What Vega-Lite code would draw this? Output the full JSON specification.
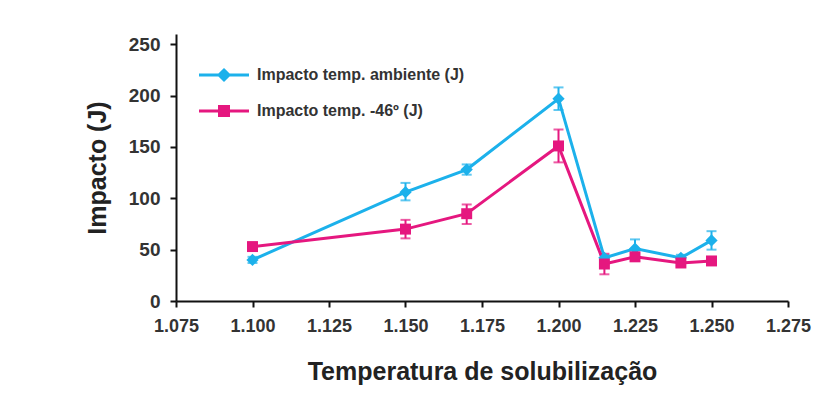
{
  "$schema": "https://vega.github.io/schema/vega-lite/v6.json",
  "width": 612,
  "height": 267,
  "autosize": {"type": "none"},
  "padding": {"left": 176, "top": 34, "right": 26, "bottom": 104},
  "background": "white",
  "config": {
    "view": {"stroke": null},
    "font": "Liberation Sans",
    "axis": {
      "grid": false,
      "domainColor": "#111",
      "domainWidth": 2,
      "tickColor": "#111",
      "tickWidth": 2,
      "tickSize": 6,
      "labelFont": "Liberation Sans",
      "labelFontSize": 18,
      "labelFontWeight": "bold",
      "labelColor": "#333",
      "titleFont": "Liberation Sans",
      "titleFontSize": 25,
      "titleFontWeight": "bold",
      "titleColor": "#222"
    }
  },
  "data": {
    "values": [
      {"serie": "Impacto temp. ambiente (J)", "temp": 1.100, "value": 40, "lo": 37, "hi": 43},
      {"serie": "Impacto temp. ambiente (J)", "temp": 1.150, "value": 106, "lo": 98, "hi": 115},
      {"serie": "Impacto temp. ambiente (J)", "temp": 1.170, "value": 128, "lo": 123, "hi": 133},
      {"serie": "Impacto temp. ambiente (J)", "temp": 1.200, "value": 197, "lo": 186, "hi": 208},
      {"serie": "Impacto temp. ambiente (J)", "temp": 1.215, "value": 42, "lo": 39, "hi": 45},
      {"serie": "Impacto temp. ambiente (J)", "temp": 1.225, "value": 51, "lo": 43, "hi": 60},
      {"serie": "Impacto temp. ambiente (J)", "temp": 1.240, "value": 42, "lo": 39, "hi": 45},
      {"serie": "Impacto temp. ambiente (J)", "temp": 1.250, "value": 59, "lo": 50, "hi": 68},
      {"serie": "Impacto temp. -46º (J)", "temp": 1.100, "value": 53, "lo": 50, "hi": 56},
      {"serie": "Impacto temp. -46º (J)", "temp": 1.150, "value": 70, "lo": 61, "hi": 79},
      {"serie": "Impacto temp. -46º (J)", "temp": 1.170, "value": 85, "lo": 75, "hi": 94},
      {"serie": "Impacto temp. -46º (J)", "temp": 1.200, "value": 151, "lo": 135, "hi": 167},
      {"serie": "Impacto temp. -46º (J)", "temp": 1.215, "value": 36, "lo": 26, "hi": 46},
      {"serie": "Impacto temp. -46º (J)", "temp": 1.225, "value": 43, "lo": 39, "hi": 47},
      {"serie": "Impacto temp. -46º (J)", "temp": 1.240, "value": 37, "lo": 34, "hi": 40},
      {"serie": "Impacto temp. -46º (J)", "temp": 1.250, "value": 39, "lo": 36, "hi": 42}
    ]
  },
  "encoding": {
    "x": {
      "field": "temp",
      "type": "quantitative",
      "title": "Temperatura de solubilização",
      "scale": {"domain": [1.075, 1.275], "nice": false, "zero": false},
      "axis": {"values": [1.075, 1.1, 1.125, 1.15, 1.175, 1.2, 1.225, 1.25, 1.275], "format": ".3f", "labelPadding": 10, "titlePadding": 24, "labelFlush": false}
    },
    "color": {
      "field": "serie",
      "type": "nominal",
      "scale": {"domain": ["Impacto temp. ambiente (J)", "Impacto temp. -46º (J)"], "range": ["#1cb1eb", "#e5177f"]},
      "legend": {
        "title": null,
        "orient": "none",
        "legendX": 40,
        "legendY": 33,
        "padding": 0,
        "symbolSize": 100,
        "labelOffset": 25,
        "labelLimit": 500,
        "labelFont": "Liberation Sans",
        "labelFontSize": 16,
        "labelFontWeight": "bold",
        "labelColor": "#333",
        "rowPadding": 14,
        "encode": {
          "symbols": {
            "update": {
              "shape": {"signal": "datum.value === 'Impacto temp. ambiente (J)' ? 'M-5,0H5M0,-1L1,0L0,1L-1,0Z' : 'M-5,0H5M-0.9,-0.9H0.9V0.9H-0.9Z'"},
              "fill": {"scale": "color", "field": "value"},
              "stroke": {"scale": "color", "field": "value"},
              "strokeWidth": {"value": 3},
              "opacity": {"value": 1}
            }
          }
        }
      }
    }
  },
  "layer": [
    {
      "mark": {"type": "errorbar", "ticks": {"size": 10}, "thickness": 2},
      "encoding": {
        "y": {"field": "lo", "type": "quantitative", "title": "Impacto (J)", "scale": {"domain": [0, 250]}, "axis": {"values": [0, 50, 100, 150, 200, 250], "labelPadding": 10, "labelFontSize": 19, "titlePadding": 18}},
        "y2": {"field": "hi"}
      }
    },
    {
      "mark": {"type": "line", "strokeWidth": 3},
      "encoding": {
        "y": {"field": "value", "type": "quantitative"}
      }
    },
    {
      "transform": [{"filter": "datum.serie === 'Impacto temp. ambiente (J)'"}],
      "mark": {"type": "point", "filled": true, "opacity": 1, "shape": "diamond", "size": 150},
      "encoding": {
        "y": {"field": "value", "type": "quantitative"}
      }
    },
    {
      "transform": [{"filter": "datum.serie === 'Impacto temp. -46º (J)'"}],
      "mark": {"type": "point", "filled": true, "opacity": 1, "shape": "square", "size": 120},
      "encoding": {
        "y": {"field": "value", "type": "quantitative"}
      }
    }
  ]
}
